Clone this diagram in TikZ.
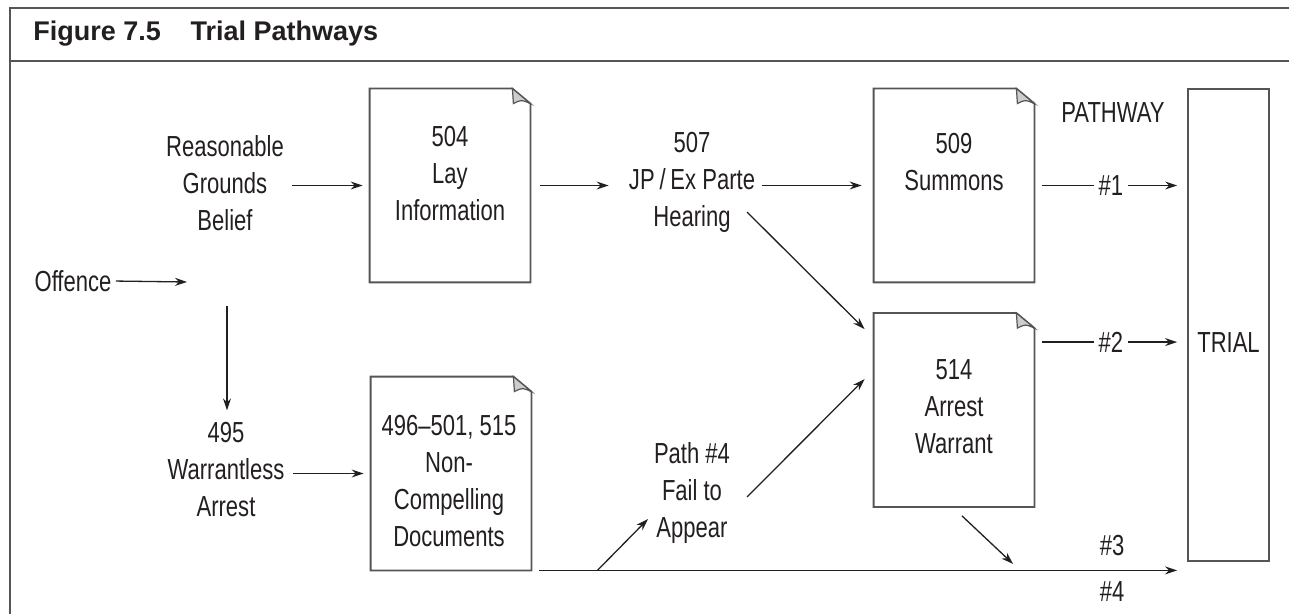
\documentclass[tikz,border=0pt]{standalone}
\usepackage{fontspec}
\setmainfont[FakeStretch=0.76]{Liberation Sans}
\newfontfamily\titlefont{Liberation Sans}
\usetikzlibrary{arrows.meta, positioning, calc}
\definecolor{framegray}{RGB}{85,85,85}
\definecolor{inkblack}{RGB}{35,31,32}
\definecolor{foldgray}{RGB}{205,205,205}

\tikzset{
  lbl/.style={align=center, inner sep=0pt, font=\fontsize{14.5}{18.5}\selectfont, text=inkblack},
  docbox/.style={minimum width=80pt, minimum height=96.5pt, inner sep=0pt},
  arr/.style={draw=inkblack, line width=0.65pt, -{Stealth[length=6pt,width=4pt]}},
  rule/.style={draw=framegray, line width=1pt},
}

% page outline with a dog-eared corner
\newcommand{\docframe}[1]{%
  \draw[framegray, line width=0.9pt, fill=white] (#1.north west) -- ($(#1.north east)+(-18,0)$)
    -- ($(#1.north east)+(0,15)$) -- (#1.south east) -- (#1.south west) -- cycle;
  \filldraw[draw=framegray, fill=foldgray, line width=0.6pt] ($(#1.north east)+(-18,0)$)
    -- ($(#1.north east)+(-17,15)$) .. controls ($(#1.north east)+(-9,11)$) .. ($(#1.north east)+(0,15)$) -- cycle;}

\begin{document}
\begin{tikzpicture}[x=0.5pt, y=-0.5pt]
\useasboundingbox (0,0) rectangle (1289,614);

% frame and heading
\draw[rule] (1289,8) -- (10,8) -- (10,614);
\draw[rule] (10,61) -- (1289,61);
\node[anchor=base west, inner sep=0pt, text=inkblack, font=\titlefont\bfseries\fontsize{13.5}{15}\selectfont] (title) at (33,41) {Figure 7.5\hspace{1.1em}Trial Pathways};

% documents
\node[docbox] (lay) at (450,185.5) {};
\node[docbox] (summons) at (954,185.5) {};
\node[docbox] (warrant) at (954,410) {};
\node[docbox] (noncomp) at (451,473.5) {};
\foreach \d in {lay,summons,warrant,noncomp} {\docframe{\d}}
\node[draw=framegray, line width=0.9pt, minimum width=40.5pt, minimum height=236pt, inner sep=0pt] (trial) at (1228.5,325) {};

\node[lbl] (laytxt) at (450,174) {504\\Lay\\Information};
\node[lbl] (sumtxt) at (954,162.5) {509\\Summons};
\node[lbl] (wartxt) at (954,407) {514\\Arrest\\Warrant};
\node[lbl] (nctxt) at (449,481) {496--501, 515\\Non-\\Compelling\\Documents};
\node[lbl] (trialtxt) at (1228.5,343) {TRIAL};

% steps
\node[lbl] (reason) at (225,183) {Reasonable\\Grounds\\Belief};
\node[lbl] (hearing) at (692,182) {507\\JP\,/\,Ex Parte\\Hearing};
\node[lbl] (offence) at (73,281) {Offence};
\node[lbl] (warrantless) at (226,470) {495\\Warrantless\\Arrest};
\node[lbl] (failappear) at (692,493) {Path \#4\\Fail to\\Appear};
\node[lbl] (pathway) at (1113,113) {PATHWAY};
\node[lbl] (p3) at (1112,546) {\#3};
\node[lbl] (p4) at (1112,592) {\#4};

\coordinate (offend) at (187,282);
\coordinate (offdown) at (227,306);
\coordinate (w2) at ($(warrant.north east)+(0,29)$);

% connectors
\draw[arr, shorten <=2pt] (offence.east) -- (offend);
\draw[arr, shorten >=6pt] (offdown) -- (warrantless.north -| offdown);
\draw[arr, shorten <=4pt, shorten >=3.5pt] (reason.east |- lay.west) -- (lay.west);
\draw[arr, shorten <=4pt, shorten >=3.5pt] (warrantless.east |- noncomp.west) -- (noncomp.west);
\draw[arr, shorten <=5pt, shorten >=10pt] (lay.east) -- (lay.east -| hearing.west);
\draw[arr, shorten <=3.5pt, shorten >=6pt] (hearing.east |- summons.west) -- (summons.west);
\draw[arr] ($(hearing)+(55,30)$) -- ($(warrant.north west)+(-9,16)$);
\draw[arr] ($(failappear)+(55,4)$) -- ($(warrant.north west)+(-9,66)$);
\draw[arr, shorten >=5pt] ($(noncomp.south east)+(8,0)$) -- (noncomp.south -| trial.west);
\draw[arr] ($(noncomp.south east)+(66,0)$) -- ($(failappear)+(-44,26)$);
\draw[arr] ($(warrant.south)+(8,9)$) -- ($(warrant.south)+(59,57)$);
\draw[arr, shorten <=4pt, shorten >=5pt] (summons.east) -- node[lbl, fill=white, inner xsep=2.5pt] (p1) {\#1} (summons.east -| trial.west);
\draw[arr, shorten <=4pt, shorten >=5pt] (w2) -- node[lbl, fill=white, inner xsep=2.5pt] (p2) {\#2} (w2 -| trial.west);
\end{tikzpicture}
\end{document}
